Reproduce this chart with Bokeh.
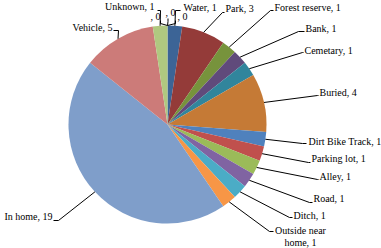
import math
from bokeh.plotting import figure
from bokeh.models import Range1d, ColumnDataSource
from bokeh.core.properties import value
from bokeh.embed import file_html
from bokeh.resources import INLINE

# ---- data ----
categories = ["Water", "Park", "Forest reserve", "Bank", "Cemetary", "Buried",
              "Dirt Bike Track", "Parking lot", "Alley", "Road", "Ditch",
              "Outside near home", "In home", "Vehicle", "Unknown", "", "", ""]
counts = [1, 3, 1, 1, 1, 4, 1, 1, 1, 1, 1, 1, 19, 5, 1, 0, 0, 0]

# ---- styles ----
colors = ["#3C6496", "#943B39", "#77933C", "#604A7B", "#31859C", "#C57A36",
          "#4F81BD", "#C0504D", "#9BBB59", "#8064A2", "#4BACC6", "#F79646",
          "#7F9ECA", "#CC7B79", "#B0C880", "#A797C0", "#8DC6D8", "#F9B583"]

# ---- label layout (pixel coords, y downwards) ----
# (text x, text y, align, display text override, anchor point, hook end)
label_layout = [
    (183, 7, "left", None, (175, 10), (180, 10)),
    (225, 8, "left", None, (222, 12), (224, 12)),
    (274, 7, "left", None, (270, 10), (273, 10)),
    (305, 28, "left", None, (298, 31), (304, 31)),
    (304, 50, "left", None, (302, 52), (303, 52)),
    (319, 92, "left", None, (317, 95), (318, 95)),
    (308, 141, "left", None, (302, 143), (306, 143)),
    (311, 158, "left", None, (308, 162), (310, 162)),
    (319, 176, "left", None, (317, 179), (318, 179)),
    (313, 198, "left", None, (309, 202), (312, 202)),
    (293, 215, "left", None, (289, 217), (292, 217)),
    (300, 236, "center", "Outside near\nhome, ", (269, 231), (273, 231)),
    (52, 216, "right", None, (58, 220), (53, 220)),
    (112, 27, "right", None, (118, 30), (113, 30)),
    (154, 6, "right", None, (160, 10), (157, 10)),
    (150, 16, "left", None, (160, 23), (160, 20)),
    (165, 12, "left", None, (167.5, 21), (167.5, 18)),
    (177, 16, "left", None, (175, 23), (175, 20)),
]

W, H = 381, 248
CX, CY, R = 167, 124, 99

def fy(y):
    return H - y

total = sum(counts)
p = figure(width=W, height=H, x_range=Range1d(0, W), y_range=Range1d(0, H),
           x_axis_type=None, y_axis_type=None, toolbar_location=None,
           output_backend="svg", min_border=0, outline_line_color=None,
           background_fill_color="white", border_fill_color="white")

wx, wy, ws, we, wc = [], [], [], [], []
lx, ly, lt, la = [], [], [], []
leaders_x, leaders_y = [], []
cum = 0.0
for name, v, col, lay in zip(categories, counts, colors, label_layout):
    a0 = 2 * math.pi * cum / total
    a1 = 2 * math.pi * (cum + v) / total
    if v > 0:
        wx.append(CX); wy.append(fy(CY))
        ws.append(math.pi / 2 - a0); we.append(math.pi / 2 - a1); wc.append(col)
    mid = (a0 + a1) / 2
    ex = CX + R * math.sin(mid)
    ey = CY - R * math.cos(mid)
    tx, ty, align, override, anchor, hook = lay
    txt = (override + str(v)) if override else f"{name}, {v}"
    lx.append(tx); ly.append(fy(ty)); lt.append(txt); la.append(align)
    leaders_x.append([ex, anchor[0], hook[0]])
    leaders_y.append([fy(ey), fy(anchor[1]), fy(hook[1])])
    cum += v

p.wedge(x=wx, y=wy, radius=R, start_angle=ws, end_angle=we,
        direction="clock", fill_color=wc, line_color=None)

p.multi_line(xs=leaders_x, ys=leaders_y, line_color="black", line_width=1)

src = ColumnDataSource(dict(x=lx, y=ly, t=lt, a=la))
p.text(x="x", y="y", text="t", text_align="a", source=src,
       text_baseline="middle",
       text_font=value("'Liberation Serif', 'Times New Roman', serif"),
       text_font_size="10px", text_color="black", text_line_height=1.1)

open("out.html", "w").write(file_html(p, INLINE))
